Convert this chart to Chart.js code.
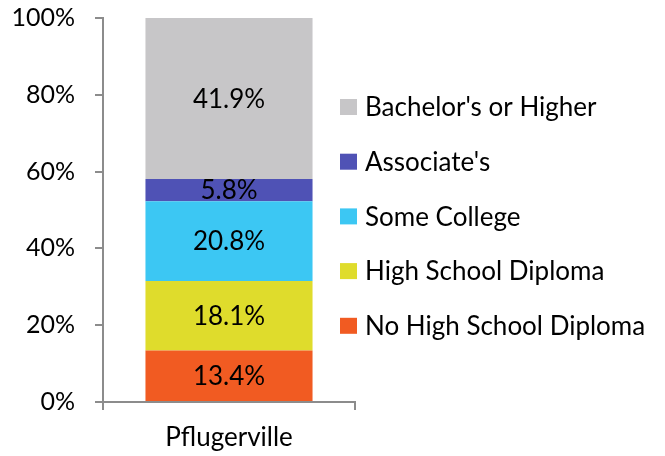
<!DOCTYPE html>
<html>
<head>
<meta charset="utf-8">
<script src="https://cdn.jsdelivr.net/npm/chart.js@4"></script>
<style>
  html, body { margin: 0; padding: 0; background: #fff; }
  #wrap { width: 665px; height: 456px; }
</style>
</head>
<body>
<div id="wrap"><canvas id="eduChart" width="665" height="456"></canvas></div>
<script>
// categories + series (bottom to top)
const categories = ["Pflugerville"];
const seriesNames = ["No High School Diploma", "High School Diploma", "Some College", "Associate's", "Bachelor's or Higher"];
const seriesColors = ["#F15B22", "#DFDC2C", "#3CC7F3", "#4F52B5", "#C7C6C8"];
const noDiploma = [13.4];
const hsDiploma = [18.1];
const someCollege = [20.8];
const associates = [5.8];
const bachelors = [41.9];
const yTicks = [0, 20, 40, 60, 80, 100];

const FONT = "Lato, 'Open Sans', sans-serif";
const FSIZE = 26;      // legend / value labels / category
const TICKSIZE = 25;   // y axis
const axisColor = "#8C8C8C";

const allValues = [noDiploma, hsDiploma, someCollege, associates, bachelors];

// value labels in the middle of each segment
const segmentLabels = {
    id: "segmentLabels",
    afterDatasetsDraw(chart) {
        const ctx = chart.ctx;
        ctx.save();
        ctx.font = FSIZE + "px " + FONT;
        ctx.fillStyle = "#000";
        ctx.textAlign = "center";
        ctx.textBaseline = "middle";
        chart.data.datasets.forEach((ds, i) => {
            chart.getDatasetMeta(i).data.forEach((bar, j) => {
                const y = (bar.y + bar.base) / 2;
                ctx.fillText(ds.data[j].toFixed(1) + "%", bar.x, y + 1);
            });
        });
        ctx.restore();
    }
};

// legend on the right, top item = top of the stack
const sideLegend = {
    id: "sideLegend",
    afterDraw(chart) {
        const ctx = chart.ctx;
        ctx.save();
        ctx.font = FSIZE + "px " + FONT;
        ctx.textBaseline = "middle";
        ctx.textAlign = "left";
        const n = chart.data.datasets.length;
        for (let k = 0; k < n; k++) {
            const i = n - 1 - k;
            const ds = chart.data.datasets[i];
            const cy = 107 + k * 54.7;
            ctx.fillStyle = ds.backgroundColor;
            ctx.fillRect(340, cy - 8, 17, 16);
            ctx.fillStyle = "#000";
            ctx.fillText(ds.label, 365, cy + 1);
        }
        ctx.restore();
    }
};

new Chart(document.getElementById("eduChart"), {
    type: "bar",
    data: {
        labels: categories,
        datasets: seriesNames.map((name, i) => ({
            label: name,
            data: allValues[i],
            backgroundColor: seriesColors[i],
            borderWidth: 0,
            categoryPercentage: 0.663,
            barPercentage: 1
        }))
    },
    options: {
        responsive: false,
        animation: false,
        layout: { padding: { left: 0, right: 310, top: 18, bottom: 0 } },
        plugins: {
            legend: { display: false },
            tooltip: { enabled: false }
        },
        scales: {
            x: {
                stacked: true,
                offset: true,
                afterFit(scale) { scale.height = 54; },
                grid: { offset: true, drawOnChartArea: false, drawTicks: true, tickLength: 8, color: axisColor, lineWidth: 2 },
                border: { color: axisColor, width: 2 },
                ticks: { color: "#000", font: { family: FONT, size: FSIZE }, padding: 12 }
            },
            y: {
                stacked: true,
                min: 0,
                max: 100,
                afterBuildTicks(scale) { scale.ticks = yTicks.map(v => ({ value: v })); },
                afterFit(scale) {
                    scale.width = 103;
                    scale.paddingTop = 0;
                    scale.paddingBottom = 0;
                },
                grid: { drawOnChartArea: false, drawTicks: true, tickLength: 8, color: axisColor, lineWidth: 2 },
                border: { color: axisColor, width: 2 },
                ticks: { color: "#000", font: { family: FONT, size: TICKSIZE }, padding: 20, callback: v => v + "%" }
            }
        }
    },
    plugins: [segmentLabels, sideLegend]
});
</script>
</body>
</html>
